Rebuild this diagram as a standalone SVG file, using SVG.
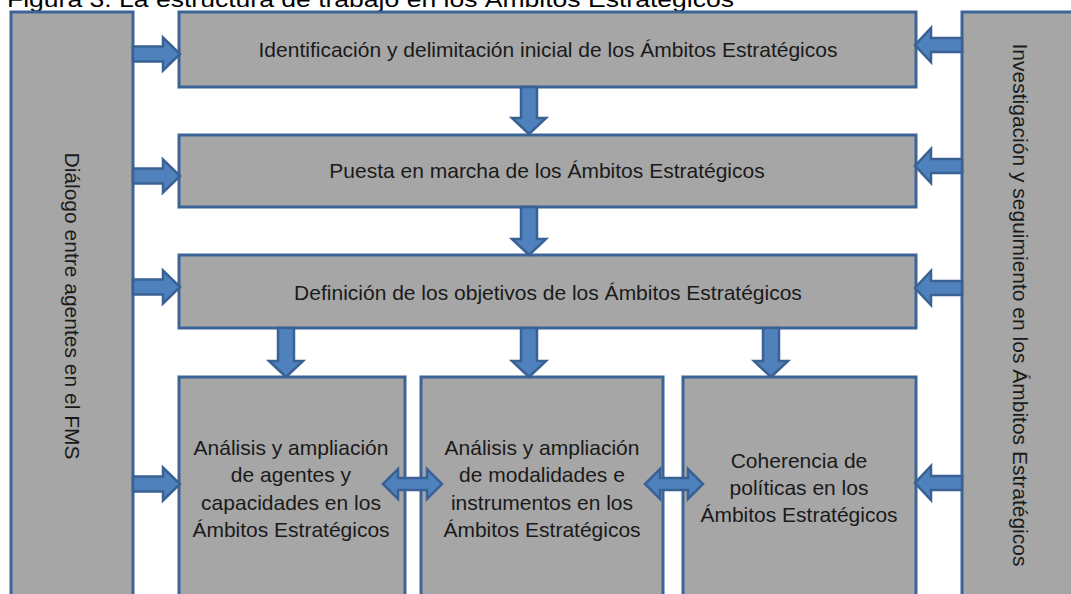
<svg xmlns="http://www.w3.org/2000/svg" width="1071" height="594" viewBox="0 0 1071 594">
<style>
.box{fill:#A6A6A6;stroke:#3C6496;stroke-width:3}
.arr{fill:#4F81BD;stroke:#3A6194;stroke-width:2.5;stroke-linejoin:miter}
.t{font-family:"Liberation Sans",Arial,sans-serif;font-size:21px;fill:#1a1a1a;text-anchor:middle}
.title{font-family:"Liberation Sans",Arial,sans-serif;font-size:22px;fill:#000}
</style>
<rect width="1071" height="594" fill="#fff"/>
<text class="title" x="7" y="7" textLength="727" lengthAdjust="spacingAndGlyphs">Figura 3. La estructura de trabajo en los Ámbitos Estratégicos</text>
<g id="n-dialogo">
<rect class="box" x="11" y="12" width="122" height="600"/>
<text class="t" transform="translate(72,306) rotate(90)" dy="7">Diálogo entre agentes en el FMS</text>
</g>
<g id="n-investigacion">
<rect class="box" x="962" y="12" width="120" height="600"/>
<text class="t" transform="translate(1020,305) rotate(90)" dy="7">Investigación y seguimiento en los Ámbitos Estratégicos</text>
</g>
<g id="n-identificacion">
<rect class="box" x="179" y="12" width="737" height="75"/>
<text class="t" x="548" y="57">Identificación y delimitación inicial de los Ámbitos Estratégicos</text>
</g>
<g id="n-puesta">
<rect class="box" x="179" y="135" width="737" height="72"/>
<text class="t" x="547" y="178">Puesta en marcha de los Ámbitos Estratégicos</text>
</g>
<g id="n-definicion">
<rect class="box" x="179" y="255" width="737" height="73"/>
<text class="t" x="548" y="300">Definición de los objetivos de los Ámbitos Estratégicos</text>
</g>
<g id="n-agentes">
<rect class="box" x="179" y="377" width="226" height="240"/>
<text class="t" x="291" y="455">Análisis y ampliación</text>
<text class="t" x="291" y="482">de agentes y</text>
<text class="t" x="291" y="510">capacidades en los</text>
<text class="t" x="291" y="537">Ámbitos Estratégicos</text>
</g>
<g id="n-modalidades">
<rect class="box" x="421" y="377" width="242" height="240"/>
<text class="t" x="542" y="455">Análisis y ampliación</text>
<text class="t" x="542" y="482">de modalidades e</text>
<text class="t" x="542" y="510">instrumentos en los</text>
<text class="t" x="542" y="537">Ámbitos Estratégicos</text>
</g>
<g id="n-coherencia">
<rect class="box" x="683" y="377" width="233" height="240"/>
<text class="t" x="799" y="468">Coherencia de</text>
<text class="t" x="799" y="495">políticas en los</text>
<text class="t" x="799" y="522">Ámbitos Estratégicos</text>
</g>
<g id="connectors">
<path class="arr" d="M133,46.5H163V37.5L180,54L163,70.5V61.5H133Z"/>
<path class="arr" d="M133,168.5H163V159.5L180,176L163,192.5V183.5H133Z"/>
<path class="arr" d="M133,279.5H163V270.5L180,287L163,303.5V294.5H133Z"/>
<path class="arr" d="M133,476.5H163V467.5L180,484L163,500.5V491.5H133Z"/>
<path class="arr" d="M962,38H931V28L915,45L931,62V52H962Z"/>
<path class="arr" d="M962,159H931V149L915,166L931,183V173H962Z"/>
<path class="arr" d="M962,281H931V271L915,288L931,305V295H962Z"/>
<path class="arr" d="M962,476H931V466L915,483L931,500V490H962Z"/>
<path class="arr" d="M521,87V118H512L529,134L546,118H537V87Z"/>
<path class="arr" d="M521,207V239H512L529,255L546,239H537V207Z"/>
<path class="arr" d="M278,328V361H269L286,377L303,361H294V328Z"/>
<path class="arr" d="M521,328V361H512L529,377L546,361H537V328Z"/>
<path class="arr" d="M763,328V361H754L771,377L788,361H779V328Z"/>
<path class="arr" d="M383,484L398,469V478H427V469L442,484L427,499V490H398V499Z"/>
<path class="arr" d="M645,484L660,469V478H688V469L703,484L688,499V490H660V499Z"/>
</g>
</svg>
